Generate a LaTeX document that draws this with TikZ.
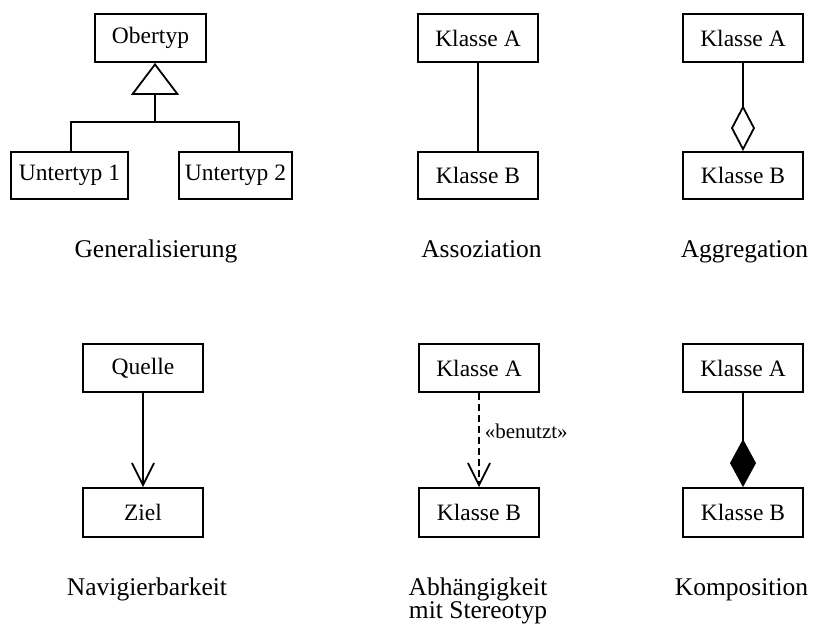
\documentclass[tikz,border=0pt]{standalone}
\usepackage{fontspec}
\setmainfont{Liberation Serif}
\usetikzlibrary{arrows.meta}

\tikzset{
  umlbox/.style={draw, line width=1.8pt, inner sep=0pt, minimum width=120pt,
    minimum height=48pt, font=\fontsize{23.5}{28}\selectfont},
  caption/.style={anchor=base, inner sep=0pt, align=center,
    font=\fontsize{25.5}{23}\selectfont},
  link/.style={line width=1.8pt},
  generalize/.style={link, -{Triangle[open, length=32pt, width=48pt]}},
  navigate/.style={link, -{Straight Barb[length=22pt, width=22pt, line join=miter]}},
  depends/.style={navigate, dash pattern=on 7pt off 4pt},
  aggregate/.style={link, {Diamond[open, length=46pt, width=24pt]}-},
  compose/.style={link, {Diamond[length=48pt, width=26pt]}-},
  stereo/.style={font=\fontsize{21}{24}\selectfont, inner sep=0pt, anchor=west}
}

\begin{document}
\begin{tikzpicture}[x=1pt, y=-1pt]
  \useasboundingbox (0,0) rectangle (815,629);

  % Generalisierung
  \node[umlbox, minimum width=111pt] (ober) at (150.5,38) {Obertyp};
  \node[umlbox, minimum width=117pt, minimum height=47pt] (unter1) at (69.5,175.5) {Untertyp 1};
  \node[umlbox, minimum width=113pt, minimum height=47pt] (unter2) at (235.5,175.5) {Untertyp 2};
  \coordinate (fork) at (155,122);
  \draw[generalize] (fork) -- (fork |- ober.south);
  \draw[link] ([xshift=1.5pt]unter1.north) |- (fork) -| ([xshift=3.5pt]unter2.north);
  \node[caption] (capgen) at (156,257) {Generalisierung};

  % Assoziation
  \node[umlbox] (assA) at (478,38) {Klasse A};
  \node[umlbox, minimum height=47pt] (assB) at (478,175.5) {Klasse B};
  \draw[link] (assA) -- (assB);
  \node[caption] (capass) at (481.5,257) {Assoziation};

  % Aggregation
  \node[umlbox] (aggA) at (743,38) {Klasse A};
  \node[umlbox, minimum height=47pt] (aggB) at (743,175.5) {Klasse B};
  \draw[aggregate] (aggB.north) -- (aggA.south);
  \node[caption] (capagg) at (744.5,257) {Aggregation};

  % Navigierbarkeit
  \node[umlbox] (quelle) at (143,368) {Quelle};
  \node[umlbox, minimum height=49pt] (ziel) at (143,512.5) {Ziel};
  \draw[navigate] (quelle.south) -- (ziel.north);
  \node[caption] (capnav) at (147,595) {Navigierbarkeit};

  % Abhaengigkeit mit Stereotyp
  \node[umlbox] (depA) at (479,368) {Klasse A};
  \node[umlbox, minimum height=49pt] (depB) at (479,512.5) {Klasse B};
  \draw[depends] (depA.south) -- (depB.north)
    node[stereo, pos=0.41, xshift=5pt] (benutzt) {«benutzt»};
  \node[caption] (capdep) at (478,618) {Abhängigkeit\\mit Stereotyp};

  % Komposition
  \node[umlbox] (komA) at (743,368) {Klasse A};
  \node[umlbox, minimum height=49pt] (komB) at (743,512.5) {Klasse B};
  \draw[compose] (komB.north) -- (komA.south);
  \node[caption] (capkom) at (741.5,595) {Komposition};
\end{tikzpicture}
\end{document}
